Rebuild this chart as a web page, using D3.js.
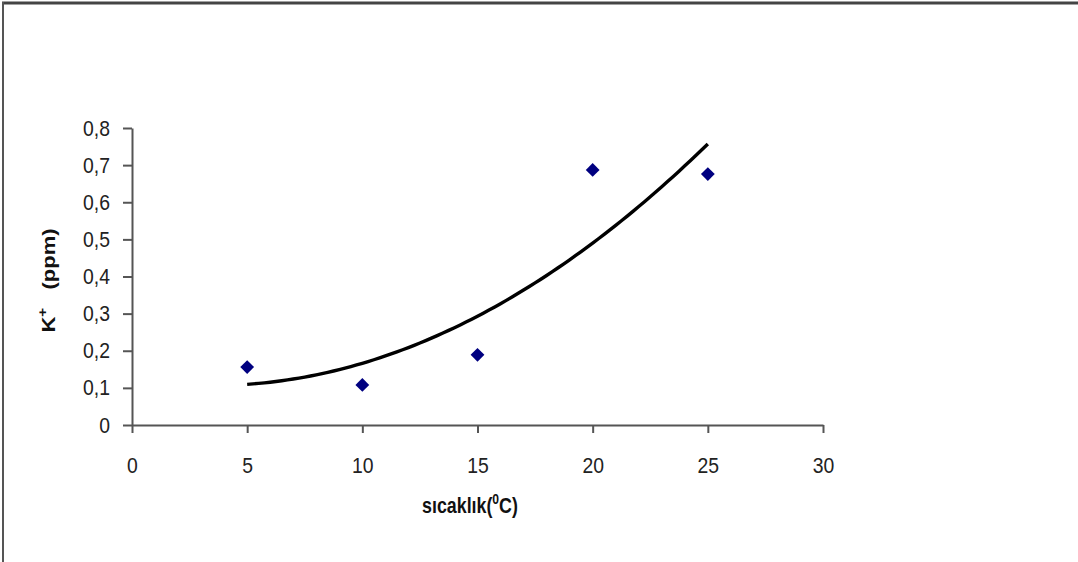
<!DOCTYPE html>
<html>
<meta charset="utf-8">
<title>K+ vs sıcaklık</title>
<style>
  body { margin: 0; background: #fff; }
  #chart { width: 1078px; height: 562px; }
  .tick text { font-family: "Liberation Sans", Arial, sans-serif; font-size: 22px; fill: #222; }
  .axis path, .axis line { stroke: #555; stroke-width: 2px; }
  .lbl { font-family: "Liberation Sans", Arial, sans-serif; font-weight: bold; font-size: 22px; fill: #111; }
</style>
<body>
<div id="chart"></div>
<script src="https://cdnjs.cloudflare.com/ajax/libs/d3/7.8.5/d3.min.js"></script>
<script>

const temps = [5, 10, 15, 20, 25];
const potassium = [0.156, 0.108, 0.189, 0.687, 0.676];
const xTicks = [0, 5, 10, 15, 20, 25, 30];
const yTicks = [0, 0.1, 0.2, 0.3, 0.4, 0.5, 0.6, 0.7, 0.8];

const W = 1078, H = 562;
const margin = {top: 128, right: 255, bottom: 137, left: 132};
const squeeze = 0.88; // the original text is a bit condensed

const svg = d3.select('#chart').append('svg')
  .attr('width', W)
  .attr('height', H);

// frame (top + left edge only, image is cropped)
svg.append('line').attr('x1', 2).attr('x2', W).attr('y1', 3).attr('y2', 3)
  .attr('stroke', '#444').attr('stroke-width', 3);
svg.append('line').attr('x1', 3).attr('x2', 3).attr('y1', 2).attr('y2', H)
  .attr('stroke', '#555').attr('stroke-width', 2);

const x = d3.scaleLinear().domain([0, 30]).range([margin.left, W - margin.right]);
const y = d3.scaleLinear().domain([0, 0.8]).range([H - margin.bottom, margin.top]);

const comma = d => String(d).replace('.', ',');

svg.append('g')
  .attr('class', 'axis')
  .attr('transform', `translate(0,${y(0)})`)
  .call(d3.axisBottom(x).tickValues(xTicks).tickSize(8).tickPadding(24).tickSizeOuter(0))
  .call(g => g.selectAll('.tick line').attr('y1', 0))
  .call(g => g.selectAll('.tick text').attr('transform', `scale(${squeeze},1)`));

svg.append('g')
  .attr('class', 'axis')
  .attr('transform', `translate(${x(0)},0)`)
  .call(d3.axisLeft(y).tickValues(yTicks).tickFormat(comma).tickSize(9).tickPadding(13).tickSizeOuter(0))
  .call(g => g.selectAll('.tick text')
    .attr('x', -22 / squeeze)
    .attr('transform', `scale(${squeeze},1)`));

// 2nd order polynomial trendline (least squares)
function polyFit(xs, ys) {
  let s = [0, 0, 0, 0, 0], t = [0, 0, 0];
  xs.forEach((xv, i) => {
    for (let k = 0; k < 5; k++) s[k] += Math.pow(xv, k);
    for (let k = 0; k < 3; k++) t[k] += Math.pow(xv, k) * ys[i];
  });
  const A = [[s[0], s[1], s[2], t[0]], [s[1], s[2], s[3], t[1]], [s[2], s[3], s[4], t[2]]];
  for (let i = 0; i < 3; i++) {
    for (let j = i + 1; j < 3; j++) {
      const f = A[j][i] / A[i][i];
      for (let k = i; k < 4; k++) A[j][k] -= f * A[i][k];
    }
  }
  const c = [0, 0, 0];
  for (let i = 2; i >= 0; i--) {
    let v = A[i][3];
    for (let k = i + 1; k < 3; k++) v -= A[i][k] * c[k];
    c[i] = v / A[i][i];
  }
  return xv => c[0] + c[1] * xv + c[2] * xv * xv;
}
const trend = polyFit(temps, potassium);
const trendPts = d3.range(temps[0], temps[temps.length - 1] + 0.01, 0.25).map(v => [v, trend(v)]);

svg.append('path')
  .datum(trendPts)
  .attr('fill', 'none')
  .attr('stroke', '#000')
  .attr('stroke-width', 3.4)
  .attr('d', d3.line().x(d => x(d[0])).y(d => y(d[1])));

svg.append('g').selectAll('path')
  .data(temps)
  .enter().append('path')
  .attr('transform', (d, i) => `translate(${x(d)},${y(potassium[i])}) rotate(45)`)
  .attr('d', d3.symbol().type(d3.symbolSquare).size(95))
  .attr('fill', '#000080');

// axis titles
const yl = svg.append('text')
  .attr('class', 'lbl')
  .attr('transform', `translate(55,${(y(0) + y(0.8)) / 2 + 4}) scale(0.85,1) rotate(-90)`)
  .attr('text-anchor', 'middle');
yl.append('tspan').text('K');
yl.append('tspan').attr('font-size', 15).attr('dy', -9).text('+');
yl.append('tspan').attr('dy', 9).text('\u00a0\u00a0\u00a0(ppm)');

const xl = svg.append('text')
  .attr('class', 'lbl')
  .attr('transform', 'translate(470,513) scale(0.81,1)')
  .attr('text-anchor', 'middle');
xl.append('tspan').text('sıcaklık(');
xl.append('tspan').attr('font-size', 15).attr('dy', -9).text('0');
xl.append('tspan').attr('dy', 9).text('C)');

</script>
</body>
</html>
